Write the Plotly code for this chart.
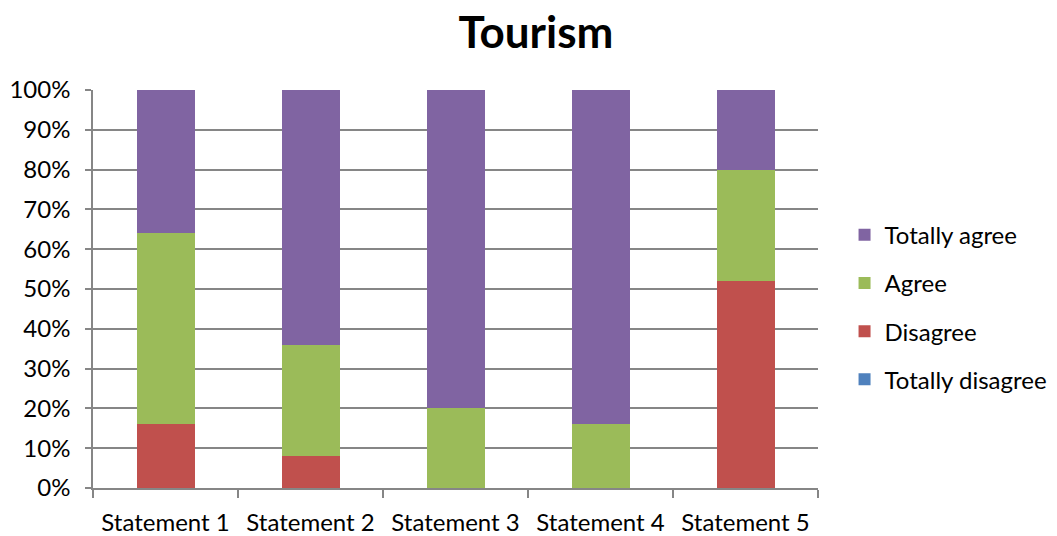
import plotly.graph_objects as go

categories = ["Statement 1", "Statement 2", "Statement 3", "Statement 4", "Statement 5"]
totally_disagree = [0, 0, 0, 0, 0]
disagree = [16, 8, 0, 0, 52]
agree = [48, 28, 20, 16, 28]
totally_agree = [36, 64, 80, 84, 20]

# stacking order bottom-to-top; legend lists them top-to-bottom (rank)
series = [
    ("Totally disagree", totally_disagree, "#4F81BD", 4),
    ("Disagree", disagree, "#C0504D", 3),
    ("Agree", agree, "#9BBB59", 2),
    ("Totally agree", totally_agree, "#8064A2", 1),
]

font_family = "Lato, 'Open Sans', sans-serif"

fig = go.Figure()
for name, vals, color, rank in series:
    fig.add_trace(go.Bar(
        x=categories, y=vals, name=name, legendgroup=name, legendrank=rank,
        marker=dict(color=color, line=dict(width=0)),
    ))

fig.update_layout(
    width=1057, height=536,
    barmode="stack", barnorm="percent", bargap=0.6,
    plot_bgcolor="white", paper_bgcolor="white",
    margin=dict(l=93, r=239, t=90, b=48, autoexpand=False),
    font=dict(family=font_family, size=24, color="#000000"),
    title=dict(text="<b>Tourism</b>", x=0.507, xref="container", xanchor="center",
               y=0.94, yref="container", yanchor="middle",
               font=dict(family=font_family, size=44, color="#000000")),
    legend=dict(traceorder="grouped", xref="container", yref="container",
                x=0.799, xanchor="left", y=0.427, yanchor="middle",
                tracegroupgap=14, font=dict(size=24), itemwidth=30),
    showlegend=True,
)
fig.update_xaxes(
    automargin=False,
    showline=True, linecolor="#868686", linewidth=1.5,
    ticks="outside", tickson="boundaries", ticklen=8, tickcolor="#868686", tickwidth=1.5,
    tickfont=dict(size=24), ticklabelstandoff=12,
)
fig.update_yaxes(
    automargin=False,
    range=[0, 100], dtick=10, ticksuffix="%",
    showgrid=True, gridcolor="#868686", gridwidth=1.5,
    showline=True, linecolor="#868686", linewidth=1.5,
    ticks="outside", ticklen=6, tickcolor="#868686", tickwidth=1.5,
    tickfont=dict(size=24), ticklabelstandoff=10, zeroline=False,
)

fig.write_html("out.html")
